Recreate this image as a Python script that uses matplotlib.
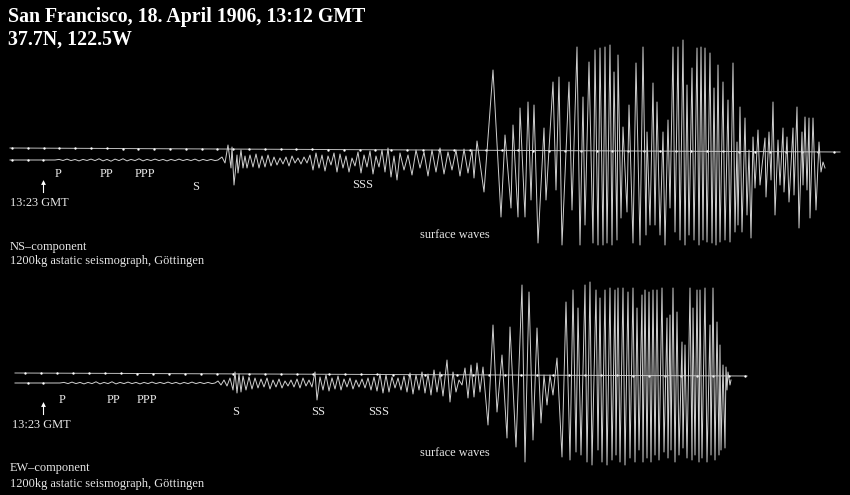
import numpy as np
import matplotlib.pyplot as plt

# --- NS component: record position (px along drum) and pen deflection (px, up = +)
ns_body_x = [10, 55, 59, 63, 67, 71, 75, 79, 83, 87, 91, 95, 99, 103, 107, 111, 115, 119, 123,
             127, 131, 135, 139, 143, 147, 151, 155, 159, 163, 167, 171, 175, 179, 183, 187, 191,
             195, 199, 203, 207, 211, 215, 218,
             222, 225, 228, 231, 232, 234, 237, 238, 241, 243, 245,
             247, 250, 253, 256, 259, 262, 265, 268, 271, 274, 277, 280, 283, 286, 289, 292,
             295, 298, 301, 304, 307, 310, 313, 316, 319, 322, 325, 328, 331, 334, 337, 340,
             343, 346, 349, 352, 355, 358, 361, 364, 367, 370, 373, 376, 379, 382, 385, 388,
             391, 394, 397, 400, 404, 408, 412, 416, 420, 424, 428, 432, 436, 440, 444, 448,
             452, 456, 460, 464, 468, 472, 474]
ns_body_d = [0, 0, 0.6, -0.5, 0.9, -0.6, 0.5, -0.9, 0.6, -0.5, 0.9, -0.6, 1.2, -0.9, 0.6, -1.2,
             0.9, -0.6, 1.2, -0.9, 0.6, -0.6, 1.2, -0.9, 0.6, -0.6, 0.9, -0.6, 0.6, -0.9, 0.6,
             -0.6, 0.9, -0.6, 0.6, -0.6, 0.9, -0.9, 0.6, -0.6, 0.6, -0.6, 0,
             3, -3, 15, -8, 13, -25, 5, -13, 10, -8, 4,
             -8, 5, -7, 6, -8, 4, -7, 5, -6, 3, -5, 2, -4, 3, -6, 4,
             -3, 2, -4, 3, -3, 5, -10, 7, -8, 5, -11, 4, -5, 7, -12, 6,
             -8, 4, -12, 2, -6, 8, -13, 5, -7, 9, -14, 4, -7, 10, -12, 12,
             -17, 4, -20, 7, -10, 5, -15, 10, -8, 8, -16, 10, -12, 12, -14, 8,
             -10, 10, -16, 11, -13, 10, -18]
ns_top_x = [477, 493, 505, 513, 520, 528, 534, 544, 553, 559, 569, 577, 583, 589, 595, 600,
            605, 610, 614, 618, 623, 629, 636, 643, 647, 653, 657, 663, 668, 673, 678, 683,
            687, 692, 697, 701, 705, 710, 714, 718, 723, 728, 733, 737, 740, 745, 749, 753,
            758, 765, 769, 773, 778, 783, 787, 793, 797, 802, 805, 809, 813, 819, 823]
ns_top_d = [19, 90, 25, 35, 52, 58, 55, 32, 78, 83, 78, 113, 63, 98, 110, 112,
            113, 115, 88, 105, 33, 55, 97, 113, 28, 77, 58, 28, 40, 113, 113, 120,
            75, 92, 112, 113, 112, 107, 72, 95, 78, 60, 97, 18, 53, 42, 10, 23,
            30, 22, 28, 58, 20, 32, 23, 32, 53, 28, 43, 42, 42, 18, -2]
ns_bot_x = [484, 501, 511, 518, 525, 531, 538, 546, 556, 562, 572, 580, 585, 593, 598, 603,
            607, 612, 617, 621, 627, 633, 640, 646, 650, 655, 660, 665, 670, 675, 680, 685,
            689, 694, 699, 703, 707, 712, 716, 720, 725, 730, 735, 738, 742, 747, 751, 755,
            760, 766, 771, 775, 780, 784, 789, 794, 799, 803, 807, 810, 816, 821, 825]
ns_bot_d = [-32, -57, -48, -57, -57, -40, -83, -40, -30, -85, -50, -85, -65, -83, -85, -85,
            -83, -85, -80, -58, -52, -83, -85, -75, -65, -65, -75, -85, -48, -72, -80, -85,
            -75, -80, -85, -80, -82, -83, -85, -82, -80, -82, -72, -65, -72, -55, -78, -28,
            -25, -37, -20, -55, -25, -32, -42, -35, -68, -25, -30, -58, -50, -12, -8]

# --- EW component
ew_body_x = [15, 60, 64, 68, 72, 76, 80, 84, 88, 92, 96, 100, 104, 108, 112, 116, 120, 124,
             128, 132, 136, 140, 144, 148, 152, 156, 160, 164, 168, 172, 176, 180, 184, 188,
             192, 196, 200, 204, 208, 212,
             215, 218, 221, 224, 227, 230, 233, 235, 237, 239, 241, 243, 246, 249, 252, 255,
             258, 261, 264, 267, 270, 273, 276, 279, 282, 285, 288, 291, 294, 297, 300, 303,
             306, 309, 312, 315, 317, 320, 323, 326, 329, 332, 335, 338, 341, 344, 347, 350,
             353, 356, 359, 362, 365, 368, 371, 374, 377, 380, 383, 386, 389, 392, 395, 398,
             401, 404, 407, 410, 413, 416, 419, 422, 425, 428, 431, 434, 437, 440, 443, 447,
             450, 453, 456, 459, 462, 465, 468, 471, 474, 477, 480]
ew_body_d = [0, 0, 0.6, -0.6, 0.9, -0.6, 0.6, -0.9, 0.6, -0.6, 1.2, -0.9, 0.6, -0.6, 1.2, -0.9,
             0.6, -0.6, 0.9, -0.6, 0.6, -0.9, 0.6, -0.6, 0.9, -0.6, 0.6, -0.6, 0.9, -0.6, 0.6,
             -0.9, 0.6, -0.6, 0.9, -0.6, 0.6, -0.6, 0.6, -0.6,
             0, 2, -2, 3, -3, 5, -7, 11, -10, 9, -9, 7, -7, 6, -6, 5,
             -5, 4, -4, 5, -6, 3, -4, 4, -5, 2, -3, 3, -4, 4, -5, 5,
             -3, 3, -4, 11, -17, 6, -7, 8, -8, 5, -6, 7, -7, 4, -4, 5,
             -6, 3, -4, 4, -5, 5, -7, 6, -8, 9, -10, 8, -9, 6, -5, 5,
             -7, 7, -9, 10, -11, 8, -7, 11, -10, 9, -12, 13, -9, 11, -13, 23,
             -19, 11, -9, 3, -2, 15, -15, 18, -14, 20, -9]
ew_top_x = [483, 493, 502, 510, 522, 529, 537, 544, 550, 557, 566, 573, 578, 585, 590, 596,
            600, 605, 610, 615, 618, 623, 628, 633, 637, 642, 645, 649, 653, 657, 662, 667,
            670, 673, 677, 682, 685, 690, 693, 697, 700, 705, 710, 713, 717, 720, 723, 726]
ew_top_d = [16, 58, 28, 56, 98, 91, 55, 8, 8, 25, 81, 93, 75, 98, 101, 93,
            85, 93, 95, 93, 95, 95, 91, 95, 75, 88, 93, 91, 93, 93, 95, 65,
            68, 95, 71, 41, 38, 95, 75, 93, 93, 95, 58, 95, 61, 38, 18, 16]
ew_bot_x = [488, 497, 507, 516, 525, 533, 541, 547, 553, 562, 570, 576, 581, 587, 592, 598,
            602, 607, 612, 616, 620, 625, 630, 635, 639, 643, 647, 651, 655, 659, 664, 668,
            671, 675, 679, 683, 687, 692, 695, 699, 702, 707, 711, 715, 719, 721, 725, 727]
ew_bot_d = [-42, -29, -55, -64, -79, -57, -40, -22, -12, -74, -77, -69, -72, -79, -82, -67,
            -79, -82, -77, -72, -79, -82, -75, -79, -67, -79, -75, -79, -72, -77, -69, -75,
            -67, -79, -72, -65, -75, -77, -72, -79, -75, -79, -72, -77, -72, -67, -65, -7]
ew_tail_x = [728, 730, 731]
ew_tail_d = [11, -2, 3]


def build_trace(body_x, body_d, top_x, top_d, bot_x, bot_d, tail_x=(), tail_d=()):
    xs, ds = list(body_x), list(body_d)
    for tx, td, bx, bd in zip(top_x, top_d, bot_x, bot_d):
        xs += [tx, bx]
        ds += [td, bd]
    xs += list(tail_x)
    ds += list(tail_d)
    return np.array(xs, float), np.array(ds, float)


fig = plt.figure(figsize=(8.5, 4.95), dpi=100, facecolor='black')
ax = fig.add_axes([0, 0, 1, 1])
ax.set_facecolor('black')
ax.set_xlim(0, 850)
ax.set_ylim(495, 0)
ax.axis('off')

trace_col = '#d0d0d0'
serif = ['Liberation Serif', 'DejaVu Serif']

components = [
    # base of trace, reference line (x0, x1, y0, y1), time-mark start/step
    dict(base=160, ref=(10, 840, 148, 152), mark0=12, step=15.8, early=[12, 28, 43],
         trace=build_trace(ns_body_x, ns_body_d, ns_top_x, ns_top_d, ns_bot_x, ns_bot_d)),
    dict(base=383, ref=(15, 747, 373, 376), mark0=25, step=16.0, early=[28, 43],
         trace=build_trace(ew_body_x, ew_body_d, ew_top_x, ew_top_d, ew_bot_x, ew_bot_d,
                           ew_tail_x, ew_tail_d)),
]

for c in components:
    x0, x1, y0, y1 = c['ref']
    ax.plot([x0, x1], [y0, y1], color='#bdbdbd', lw=0.7)
    marks = np.arange(c['mark0'], x1, c['step'])
    ax.plot(marks, y0 + (y1 - y0) * (marks - x0) / (x1 - x0), 'o', color='white',
            ms=1.7, mew=0)
    tx, td = c['trace']
    ax.plot(tx, c['base'] - td, color=trace_col, lw=0.7)
    ax.plot(c['early'], [c['base']] * len(c['early']), 'o', color='white', ms=1.7, mew=0)

# title
ax.text(8, 22, 'San Francisco, 18. April 1906, 13:12 GMT', color='white', fontsize=14.3,
        fontweight='bold', family=serif, va='baseline')
ax.text(8, 45, '37.7N, 122.5W', color='white', fontsize=14.3, fontweight='bold',
        family=serif, va='baseline')

labels = [
    # NS
    ('P', 55, 177), ('PP', 100, 177), ('PPP', 135, 177), ('S', 192, 190), ('SSS', 352, 188),
    ('13:23 GMT', 10, 206), ('surface waves', 420, 238), ('NS\u2013component', 10, 250),
    ('1200kg astatic seismograph, G\u00f6ttingen', 10, 264),
    # EW
    ('P', 59, 403), ('PP', 107, 403), ('PPP', 137, 403), ('S', 232, 415), ('SS', 311, 415),
    ('SSS', 368, 415), ('13:23 GMT', 12, 428), ('surface waves', 420, 456),
    ('EW\u2013component', 10, 471), ('1200kg astatic seismograph, G\u00f6ttingen', 10, 487),
]
for s, x, y in labels:
    ax.text(x, y, s, color='#e6e6e6', fontsize=8.9, family=serif, va='baseline')

for y_tip in (180, 402):
    ax.plot([43, 43], [y_tip + 2, y_tip + 12], color='white', lw=0.8)
    ax.plot([43], [y_tip + 1.5], marker='^', color='white', ms=3.5, mew=0)

fig.savefig('out.png', dpi=100, facecolor='black')
